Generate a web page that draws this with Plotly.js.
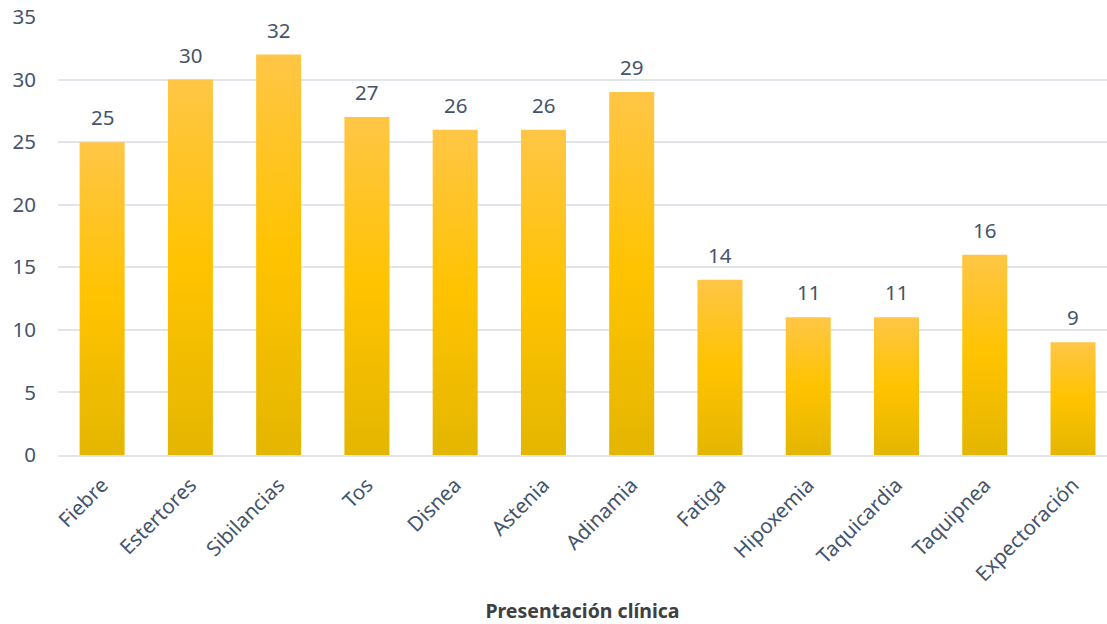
<!DOCTYPE html>
<html>
<head>
<meta charset="utf-8">
<script src="https://cdn.plot.ly/plotly-3.0.1.min.js"></script>
<style>
  html, body { margin: 0; padding: 0; background: #fff; }
  #chart { width: 1107px; height: 624px; }
</style>
</head>
<body>
<div id="chart"></div>
<script>
// Clinical presentation counts
const categories = ['Fiebre', 'Estertores', 'Sibilancias', 'Tos', 'Disnea', 'Astenia',
                    'Adinamia', 'Fatiga', 'Hipoxemia', 'Taquicardia', 'Taquipnea', 'Expectoración'];
const counts = [25, 30, 32, 27, 26, 26, 29, 14, 11, 11, 16, 9];
const yTicks = [0, 5, 10, 15, 20, 25, 30, 35];

const textColor = '#44546A';
const gridColor = '#E1E5EB';
const fontFamily = '"Noto Sans", "Open Sans", sans-serif';

const barTrace = {
  type: 'bar',
  x: categories,
  y: counts,
  marker: { color: '#FFC000', line: { width: 0 } },
  hoverinfo: 'x+y'
};

// value labels above each bar
const labels = categories.map((c, i) => ({
  x: c,
  y: counts[i],
  xref: 'x',
  yref: 'y',
  text: String(counts[i]),
  showarrow: false,
  yanchor: 'middle',
  yshift: 25,
  font: { family: fontFamily, size: 20.5, color: textColor }
}));

const layout = {
  width: 1107,
  height: 624,
  margin: { l: 58, r: 0, t: 17, b: 169 },
  paper_bgcolor: '#ffffff',
  plot_bgcolor: '#ffffff',
  bargap: 0.49,
  showlegend: false,
  font: { family: fontFamily, color: textColor, size: 20 },
  xaxis: {
    type: 'category',
    range: [-0.5, 11.385],
    tickangle: -45,
    tickfont: { family: fontFamily, size: 20.5, color: textColor },
    showgrid: false,
    showline: true,
    linecolor: gridColor,
    linewidth: 2,
    ticks: '',
    ticklabelstandoff: 8,
    fixedrange: true,
    title: {
      text: '<b>Presentación clínica</b>',
      font: { family: fontFamily, size: 19.5, color: '#404040' },
      standoff: 26
    }
  },
  yaxis: {
    range: [0, 35],
    tickvals: yTicks,
    ticktext: yTicks.map(String),
    tickfont: { family: fontFamily, size: 20.5, color: textColor },
    showgrid: true,
    gridcolor: gridColor,
    gridwidth: 2,
    zeroline: false,
    showline: false,
    ticks: '',
    ticklabelstandoff: 21,
    fixedrange: true
  },
  annotations: labels
};

const gd = document.getElementById('chart');
Plotly.newPlot(gd, [barTrace], layout, { displayModeBar: false, staticPlot: true }).then(() => {
  // vertical gold gradient on every bar
  const svgNS = 'http://www.w3.org/2000/svg';
  const svg = gd.querySelector('svg.main-svg');
  let defs = svg.querySelector('defs');
  if (!defs) { defs = document.createElementNS(svgNS, 'defs'); svg.insertBefore(defs, svg.firstChild); }
  const grad = document.createElementNS(svgNS, 'linearGradient');
  grad.setAttribute('id', 'goldBarGradient');
  grad.setAttribute('x1', '0'); grad.setAttribute('y1', '0');
  grad.setAttribute('x2', '0'); grad.setAttribute('y2', '1');
  [['0%', '#FFC646'], ['50%', '#FFC300'], ['100%', '#E4B600']].forEach(([off, col]) => {
    const s = document.createElementNS(svgNS, 'stop');
    s.setAttribute('offset', off);
    s.setAttribute('stop-color', col);
    grad.appendChild(s);
  });
  defs.appendChild(grad);
  gd.querySelectorAll('.bars .point path').forEach(p => {
    p.style.fill = 'url(#goldBarGradient)';
    p.style.fillOpacity = 1;
  });
});
</script>
</body>
</html>
